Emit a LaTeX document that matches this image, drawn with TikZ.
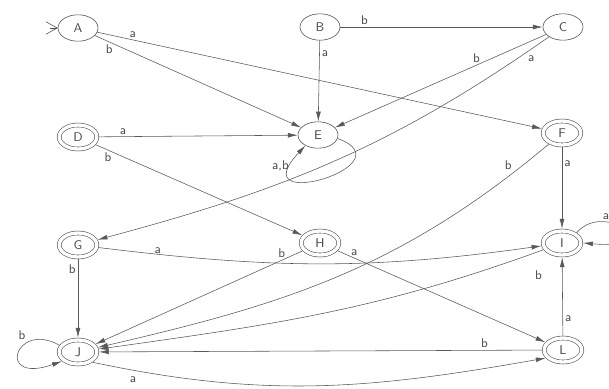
\documentclass[tikz,border=0pt]{standalone}
\usetikzlibrary{arrows.meta,shapes.geometric}
\begin{document}
\begin{tikzpicture}[x=0.025cm,y=0.025cm,
  state/.style={ellipse,draw=black!70,thin,minimum width=1cm,minimum height=0.66cm,inner sep=1pt,font=\sffamily\small,text=black!70},
  accept/.style={state,double,double distance=2.4pt,minimum width=0.94cm,minimum height=0.6cm,outer sep=1.6pt},
  tr/.style={draw=black!65,thin,-{Latex[length=7pt,width=3.4pt]}},
  lbl/.style={font=\sffamily\small,text=black!70,inner sep=1.5pt}]
\useasboundingbox (0,0) rectangle (609,-388);

\node[state] (A) at (78,-28) {A};
\node[state] (B) at (320,-27) {B};
\node[state] (C) at (563,-27) {C};
\node[accept] (D) at (78,-137) {D};
\node[state] (E) at (318,-135) {E};
\node[accept] (F) at (562,-133) {F};
\node[accept] (G) at (78,-245) {G};
\node[accept] (H) at (320,-243) {H};
\node[accept] (I) at (562,-243) {I};
\node[accept] (J) at (78,-352) {J};
\node[accept] (L) at (563,-350) {L};
\coordinate (start) at (50,-28);

% start marker
\draw[draw=black!70,-{Straight Barb[length=8pt,width=9pt]}] (start) -- (A);

\draw[tr] (A) -- node[lbl,pos=0.08,above]{a} (F);
\draw[tr] (A) -- node[lbl,pos=0.07,below]{b} (E);
\draw[tr] (B) -- node[lbl,pos=0.12,above]{b} (C);
\draw[tr] (B) -- node[lbl,pos=0.16,right]{a} (E);
\draw[tr] (C) -- node[lbl,pos=0.33,above]{b} (E);
\draw[tr] (C) to[out=215,in=15] node[lbl,pos=0.05,below right]{a} (G);
\draw[tr] (D) -- node[lbl,pos=0.12,above]{a} (E);
\draw[tr] (D) -- node[lbl,pos=0.06,below]{b} (H);
\draw[tr] (E.-10) .. controls (410,-165) and (240,-215) .. node[lbl,pos=0.88,left]{a,b} (E.-140);
\draw[tr] (F) -- node[lbl,pos=0.2,right]{a} (I);
\draw[tr] (F) to[out=220,in=13] node[lbl,pos=0.08,above left]{b} (J);
\draw[tr] (G) -- node[lbl,pos=0.13,left]{b} (J);
\draw[tr] (G) to[out=-7,in=188] node[lbl,pos=0.12,above,inner sep=0.5pt]{a} (I);
\draw[tr] (H) -- node[lbl,pos=0.1,above]{b} (J);
\draw[tr] (H) -- node[lbl,pos=0.08,above]{a} (L);
\draw[tr] (I) to[out=200,in=8] node[lbl,pos=0.01,below=12pt]{b} (J);
\draw[tr] (I.35) .. controls (605,-200) and (665,-250) .. node[lbl,pos=0.3,above]{a} (I.0);
\draw[tr] (L) -- node[lbl,pos=0.22,right]{a} (I);
\draw[tr] (L) -- node[lbl,pos=0.13,above]{b} (J);
\draw[tr] (J.-35) to[out=-12,in=190] node[lbl,pos=0.08,below=3pt]{a} (L.205);
\draw[tr] (J.160) .. controls (15,-320) and (-5,-385) .. node[lbl,pos=0.3,above left]{b} (J.-150);
\end{tikzpicture}
\end{document}
